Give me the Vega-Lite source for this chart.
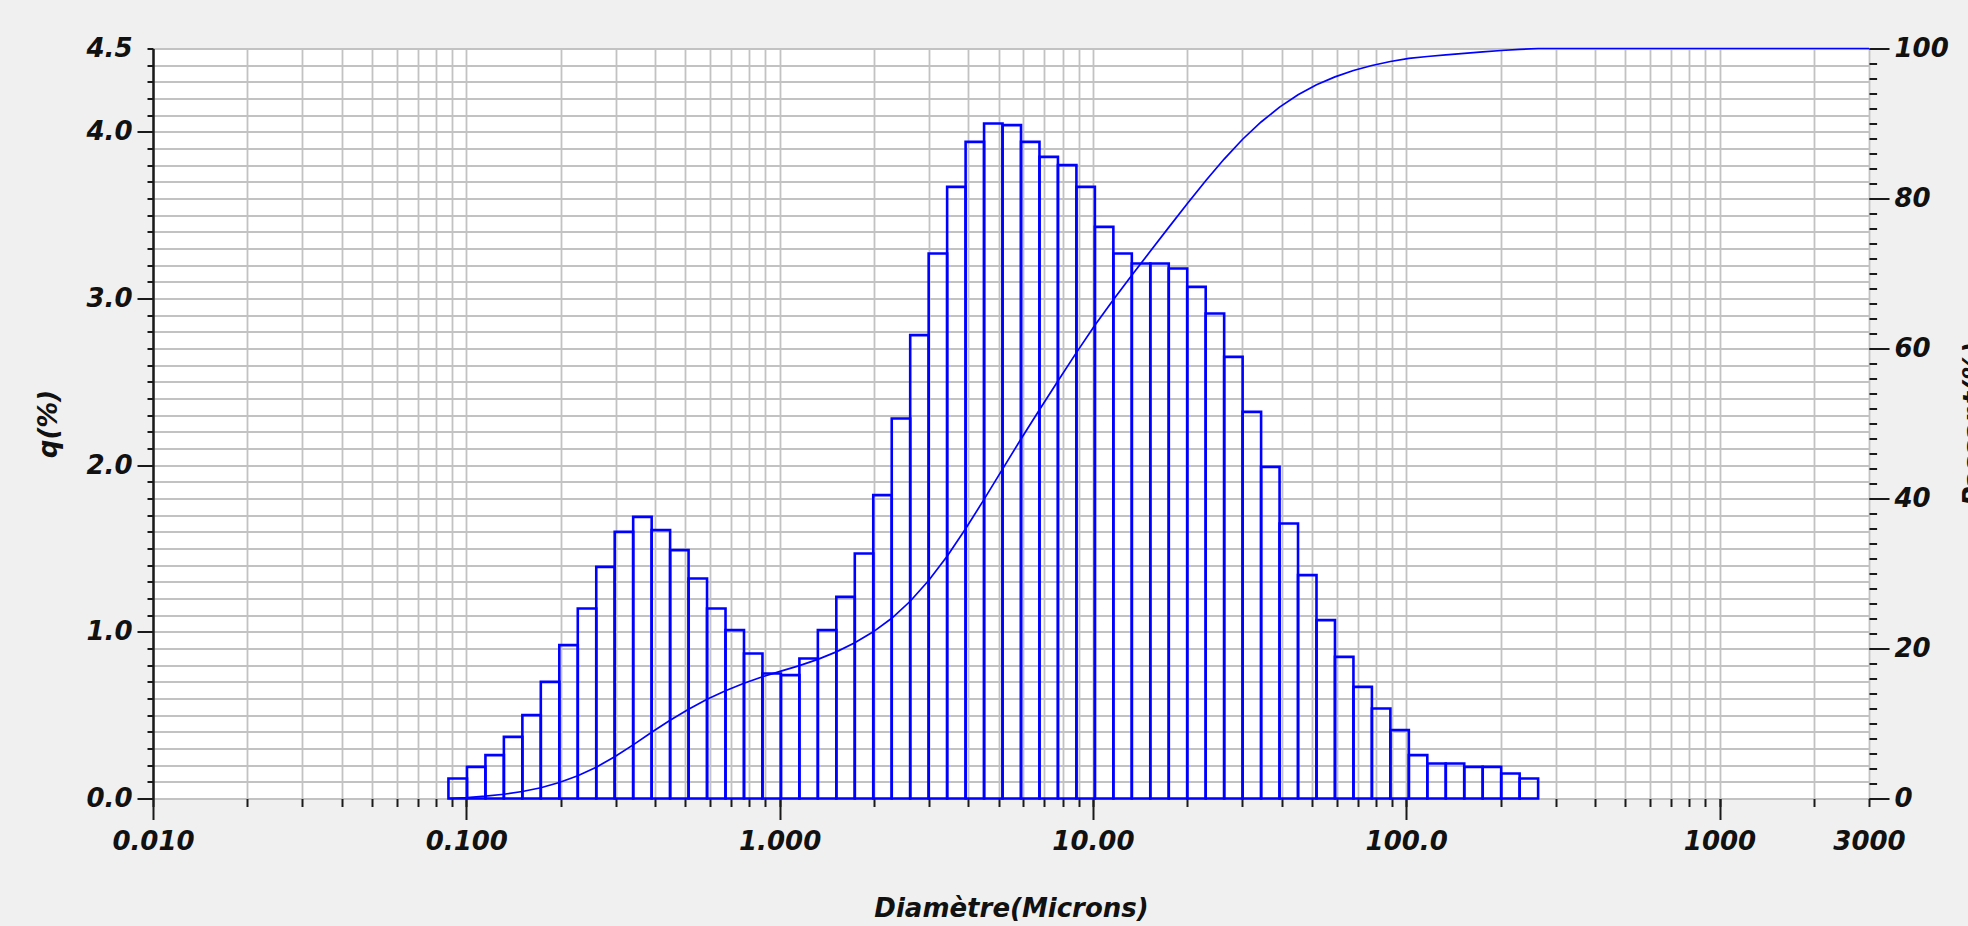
{
  "$schema": "https://vega.github.io/schema/vega-lite/v6.json",
  "autosize": {"type": "none"},
  "width": 1716,
  "height": 750,
  "padding": {"left": 153, "top": 48.5, "right": 99, "bottom": 127.5},
  "background": "#f0f0f0",
  "config": {
    "view": {"stroke": null, "fill": "#ffffff"},
    "axis": {
      "labelFont": "DejaVu Sans", "labelFontSize": 26, "labelFontStyle": "italic", "labelFontWeight": "bold", "labelColor": "#111111",
      "titleFont": "DejaVu Sans", "titleFontSize": 26, "titleFontStyle": "italic", "titleFontWeight": "bold", "titleColor": "#111111",
      "tickColor": "#1a1a1a", "tickWidth": 2, "gridColor": "#c2c2c2", "gridWidth": 1.8, "gridOpacity": 1,
      "labelOverlap": false, "labelBound": false, "labelFlush": false, "domain": false, "grid": false
    }
  },
  "datasets": {
    "bins": [
      {"lo": 0.0877, "hi": 0.1005, "q": 0.12},
      {"lo": 0.1005, "hi": 0.1151, "q": 0.19},
      {"lo": 0.1151, "hi": 0.1318, "q": 0.26},
      {"lo": 0.1318, "hi": 0.1510, "q": 0.37},
      {"lo": 0.1510, "hi": 0.1729, "q": 0.50},
      {"lo": 0.1729, "hi": 0.1981, "q": 0.70},
      {"lo": 0.1981, "hi": 0.2269, "q": 0.92},
      {"lo": 0.2269, "hi": 0.2599, "q": 1.14},
      {"lo": 0.2599, "hi": 0.2976, "q": 1.39},
      {"lo": 0.2976, "hi": 0.3409, "q": 1.60},
      {"lo": 0.3409, "hi": 0.3905, "q": 1.69},
      {"lo": 0.3905, "hi": 0.4472, "q": 1.61},
      {"lo": 0.4472, "hi": 0.5122, "q": 1.49},
      {"lo": 0.5122, "hi": 0.5867, "q": 1.32},
      {"lo": 0.5867, "hi": 0.6720, "q": 1.14},
      {"lo": 0.6720, "hi": 0.7697, "q": 1.01},
      {"lo": 0.7697, "hi": 0.8816, "q": 0.87},
      {"lo": 0.8816, "hi": 1.0097, "q": 0.75},
      {"lo": 1.0097, "hi": 1.1565, "q": 0.74},
      {"lo": 1.1565, "hi": 1.3246, "q": 0.84},
      {"lo": 1.3246, "hi": 1.5172, "q": 1.01},
      {"lo": 1.5172, "hi": 1.7377, "q": 1.21},
      {"lo": 1.7377, "hi": 1.9904, "q": 1.47},
      {"lo": 1.9904, "hi": 2.2797, "q": 1.82},
      {"lo": 2.2797, "hi": 2.6111, "q": 2.28},
      {"lo": 2.6111, "hi": 2.9907, "q": 2.78},
      {"lo": 2.9907, "hi": 3.4255, "q": 3.27},
      {"lo": 3.4255, "hi": 3.9234, "q": 3.67},
      {"lo": 3.9234, "hi": 4.4938, "q": 3.94},
      {"lo": 4.4938, "hi": 5.1471, "q": 4.05},
      {"lo": 5.1471, "hi": 5.8953, "q": 4.04},
      {"lo": 5.8953, "hi": 6.7523, "q": 3.94},
      {"lo": 6.7523, "hi": 7.7339, "q": 3.85},
      {"lo": 7.7339, "hi": 8.8583, "q": 3.80},
      {"lo": 8.8583, "hi": 10.146, "q": 3.67},
      {"lo": 10.146, "hi": 11.621, "q": 3.43},
      {"lo": 11.621, "hi": 13.310, "q": 3.27},
      {"lo": 13.310, "hi": 15.245, "q": 3.21},
      {"lo": 15.245, "hi": 17.462, "q": 3.21},
      {"lo": 17.462, "hi": 20.000, "q": 3.18},
      {"lo": 20.000, "hi": 22.908, "q": 3.07},
      {"lo": 22.908, "hi": 26.238, "q": 2.91},
      {"lo": 26.238, "hi": 30.052, "q": 2.65},
      {"lo": 30.052, "hi": 34.421, "q": 2.32},
      {"lo": 34.421, "hi": 39.424, "q": 1.99},
      {"lo": 39.424, "hi": 45.156, "q": 1.65},
      {"lo": 45.156, "hi": 51.720, "q": 1.34},
      {"lo": 51.720, "hi": 59.239, "q": 1.07},
      {"lo": 59.239, "hi": 67.850, "q": 0.85},
      {"lo": 67.850, "hi": 77.714, "q": 0.67},
      {"lo": 77.714, "hi": 89.012, "q": 0.54},
      {"lo": 89.012, "hi": 101.95, "q": 0.41},
      {"lo": 101.95, "hi": 116.77, "q": 0.26},
      {"lo": 116.77, "hi": 133.75, "q": 0.21},
      {"lo": 133.75, "hi": 153.19, "q": 0.21},
      {"lo": 153.19, "hi": 175.46, "q": 0.19},
      {"lo": 175.46, "hi": 200.97, "q": 0.19},
      {"lo": 200.97, "hi": 230.19, "q": 0.15},
      {"lo": 230.19, "hi": 263.65, "q": 0.12}
    ],
    "cumul": [
      {"d": 0.0877, "cum": 0},
      {"d": 0.1005, "cum": 0.12},
      {"d": 0.1151, "cum": 0.31},
      {"d": 0.1318, "cum": 0.57},
      {"d": 0.1510, "cum": 0.93},
      {"d": 0.1729, "cum": 1.43},
      {"d": 0.1981, "cum": 2.13},
      {"d": 0.2269, "cum": 3.04},
      {"d": 0.2599, "cum": 4.18},
      {"d": 0.2976, "cum": 5.56},
      {"d": 0.3409, "cum": 7.15},
      {"d": 0.3905, "cum": 8.83},
      {"d": 0.4472, "cum": 10.43},
      {"d": 0.5122, "cum": 11.91},
      {"d": 0.5867, "cum": 13.23},
      {"d": 0.6720, "cum": 14.36},
      {"d": 0.7697, "cum": 15.37},
      {"d": 0.8816, "cum": 16.23},
      {"d": 1.0097, "cum": 16.98},
      {"d": 1.1565, "cum": 17.71},
      {"d": 1.3246, "cum": 18.55},
      {"d": 1.5172, "cum": 19.55},
      {"d": 1.7377, "cum": 20.76},
      {"d": 1.9904, "cum": 22.22},
      {"d": 2.2797, "cum": 24.03},
      {"d": 2.6111, "cum": 26.30},
      {"d": 2.9907, "cum": 29.06},
      {"d": 3.4255, "cum": 32.31},
      {"d": 3.9234, "cum": 35.96},
      {"d": 4.4938, "cum": 39.88},
      {"d": 5.1471, "cum": 43.91},
      {"d": 5.8953, "cum": 47.93},
      {"d": 6.7523, "cum": 51.84},
      {"d": 7.7339, "cum": 55.67},
      {"d": 8.8583, "cum": 59.45},
      {"d": 10.146, "cum": 63.10},
      {"d": 11.621, "cum": 66.51},
      {"d": 13.310, "cum": 69.77},
      {"d": 15.245, "cum": 72.96},
      {"d": 17.462, "cum": 76.15},
      {"d": 20.000, "cum": 79.31},
      {"d": 22.908, "cum": 82.37},
      {"d": 26.238, "cum": 85.26},
      {"d": 30.052, "cum": 87.90},
      {"d": 34.421, "cum": 90.20},
      {"d": 39.424, "cum": 92.18},
      {"d": 45.156, "cum": 93.82},
      {"d": 51.720, "cum": 95.16},
      {"d": 59.239, "cum": 96.22},
      {"d": 67.850, "cum": 97.07},
      {"d": 77.714, "cum": 97.73},
      {"d": 89.012, "cum": 98.27},
      {"d": 101.95, "cum": 98.68},
      {"d": 116.77, "cum": 98.93},
      {"d": 133.75, "cum": 99.14},
      {"d": 153.19, "cum": 99.35},
      {"d": 175.46, "cum": 99.54},
      {"d": 200.97, "cum": 99.73},
      {"d": 230.19, "cum": 99.88},
      {"d": 263.65, "cum": 100},
      {"d": 3000, "cum": 100}
    ]
  },
  "layer": [
    {
      "data": {"name": "bins"},
      "mark": {"type": "rect", "filled": false, "color": "#0000ff", "strokeWidth": 2.6},
      "encoding": {
        "x": {
          "field": "lo", "type": "quantitative",
          "scale": {"type": "log", "domain": [0.01, 3000], "nice": false},
          "axis": {
            "orient": "bottom", "grid": true, "tickSize": 8, "labelPadding": 22, "title": null,
            "values": [0.01, 0.02, 0.03, 0.04, 0.05, 0.06, 0.07, 0.08, 0.09,
                       0.1, 0.2, 0.3, 0.4, 0.5, 0.6, 0.7, 0.8, 0.9,
                       1, 2, 3, 4, 5, 6, 7, 8, 9,
                       10, 20, 30, 40, 50, 60, 70, 80, 90,
                       100, 200, 300, 400, 500, 600, 700, 800, 900,
                       1000, 2000, 3000],
            "labelExpr": "datum.value == 3000 ? '3000' : ''"
          }
        },
        "x2": {"field": "hi"},
        "y": {
          "field": "q", "type": "quantitative",
          "scale": {"domain": [0, 4.5], "nice": false},
          "axis": {
            "orient": "left", "grid": true, "tickSize": 6, "labelPadding": 15, "title": null,
            "domain": true, "domainColor": "#1a1a1a", "domainWidth": 2.5,
            "values": [0, 0.1, 0.2, 0.3, 0.4, 0.5, 0.6, 0.7, 0.8, 0.9,
                       1, 1.1, 1.2, 1.3, 1.4, 1.5, 1.6, 1.7, 1.8, 1.9,
                       2, 2.1, 2.2, 2.3, 2.4, 2.5, 2.6, 2.7, 2.8, 2.9,
                       3, 3.1, 3.2, 3.3, 3.4, 3.5, 3.6, 3.7, 3.8, 3.9,
                       4, 4.1, 4.2, 4.3, 4.4, 4.5],
            "labelExpr": "datum.value == 4.5 ? '4.5' : ''",
            "labelBaseline": "middle"
          }
        },
        "y2": {"datum": 0}
      }
    },
    {
      "data": {"name": "bins"},
      "mark": {"type": "point", "opacity": 0},
      "encoding": {
        "x": {
          "field": "lo", "type": "quantitative",
          "scale": {"type": "log", "domain": [0.01, 3000], "nice": false},
          "axis": {
            "orient": "bottom", "tickSize": 21, "labelPadding": 9,
            "values": [0.01, 0.1, 1, 10, 100, 1000],
            "labelExpr": "datum.value == 0.01 ? '0.010' : datum.value == 0.1 ? '0.100' : datum.value == 1 ? '1.000' : datum.value == 10 ? '10.00' : datum.value == 100 ? '100.0' : '1000'",
            "title": "Diamètre(Microns)", "titlePadding": 41
          }
        },
        "y": {
          "field": "q", "type": "quantitative",
          "scale": {"domain": [0, 4.5], "nice": false},
          "axis": {
            "orient": "left", "tickSize": 16, "labelPadding": 5,
            "values": [0, 1, 2, 3, 4],
            "labelExpr": "format(datum.value, '.1f')", "labelBaseline": "middle",
            "title": "q(%)", "titlePadding": 24
          }
        }
      }
    },
    {
      "data": {"name": "cumul"},
      "mark": {"type": "line", "color": "#0000ff", "strokeWidth": 1.7},
      "encoding": {
        "x": {
          "field": "d", "type": "quantitative",
          "scale": {"type": "log", "domain": [0.01, 3000], "nice": false},
          "axis": null
        },
        "y": {
          "field": "cum", "type": "quantitative",
          "scale": {"domain": [0, 100], "nice": false},
          "axis": {
            "orient": "right", "tickSize": 20, "labelPadding": 5,
            "values": [0, 20, 40, 60, 80, 100], "labelBaseline": "middle",
            "title": "Passant(%)", "titleAngle": 270, "titleBaseline": "top", "titlePadding": 12
          }
        }
      }
    },
    {
      "data": {"name": "cumul"},
      "mark": {"type": "point", "opacity": 0},
      "encoding": {
        "x": {
          "field": "d", "type": "quantitative",
          "scale": {"type": "log", "domain": [0.01, 3000], "nice": false},
          "axis": null
        },
        "y": {
          "field": "cum", "type": "quantitative",
          "scale": {"domain": [0, 100], "nice": false},
          "axis": {
            "orient": "right", "tickSize": 7.6, "labels": false, "title": null,
            "values": [0, 2, 4, 6, 8, 10, 12, 14, 16, 18, 20, 22, 24, 26, 28, 30, 32, 34, 36, 38,
                       40, 42, 44, 46, 48, 50, 52, 54, 56, 58, 60, 62, 64, 66, 68, 70, 72, 74, 76, 78,
                       80, 82, 84, 86, 88, 90, 92, 94, 96, 98, 100]
          }
        }
      }
    }
  ],
  "resolve": {
    "scale": {"y": "independent"},
    "axis": {"x": "independent", "y": "independent"}
  }
}
